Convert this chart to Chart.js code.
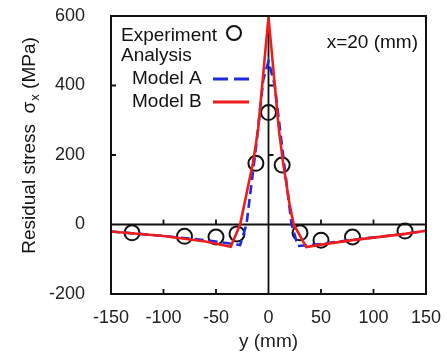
<!DOCTYPE html>
<html>
<head>
<meta charset="utf-8">
<script src="https://cdn.jsdelivr.net/npm/chart.js@4"></script>
<style>
  html, body { margin: 0; padding: 0; background: #fff; }
  #wrap { width: 447px; height: 354px; }
</style>
</head>
<body>
<div id="wrap"><canvas id="myChart"></canvas></div>
<script>
// measured points (y position in mm, stress in MPa)
const expPos    = [-130, -80, -50, -30, -12, 0, 13, 30, 50, 80, 130];
const expStress = [-24, -34, -36, -27, 176, 322, 171, -24, -45, -36, -19];

// Model A (blue dashed)
const modelAPos    = [-150, -100, -60, -27, -21, -12, -5, 0, 6, 11, 22, 28, 50, 80, 130, 150];
const modelAStress = [-20, -33, -45, -59, 0, 220, 416, 470, 400, 272, 0, -62, -56, -44, -27, -18];

// Model B (red solid)
const modelBPos    = [-150, -100, -60, -36, -27, -15, -10, -6, -3, 0, 3, 6, 10, 14, 20, 24, 36, 50, 80, 130, 150];
const modelBStress = [-20, -33, -49, -64, 0, 175, 270, 400, 500, 595, 500, 400, 270, 175, 60, 0, -65, -58, -45, -27, -18];

const xRange = [-150, 150];
const yRange = [-200, 600];

const toXY = (xs, ys) => xs.map((v, i) => ({ x: v, y: ys[i] }));

const FONT = '"Liberation Sans", Arial, sans-serif';
const BLUE = '#1e2be0';
const RED = '#ee1c1c';

const framePlugin = {
  id: 'frame',
  beforeDatasetsDraw(chart) {
    const { ctx, chartArea: a, scales: { x, y } } = chart;
    const x0 = x.getPixelForValue(0), y0 = y.getPixelForValue(0);
    ctx.save();
    ctx.strokeStyle = '#111';
    ctx.lineWidth = 1.8;
    ctx.beginPath();
    ctx.moveTo(a.left, y0); ctx.lineTo(a.right, y0);
    ctx.moveTo(x0, a.top); ctx.lineTo(x0, a.bottom);
    x.ticks.map(t => t.value).filter(v => v !== 0 && v > x.min && v < x.max).forEach(v => {
      const px = x.getPixelForValue(v);
      ctx.moveTo(px, a.bottom); ctx.lineTo(px, a.bottom - 5);
      ctx.moveTo(px, y0); ctx.lineTo(px, y0 - 5);
    });
    y.ticks.map(t => t.value).filter(v => v > 0 && v < y.max).forEach(v => {
      const py = y.getPixelForValue(v);
      ctx.moveTo(a.left, py); ctx.lineTo(a.left + 5, py);
      ctx.moveTo(x0, py); ctx.lineTo(x0 + 5, py);
    });
    ctx.stroke();
    ctx.restore();
  },
  afterDraw(chart) {
    const { ctx, chartArea: a } = chart;
    ctx.save();
    // plot frame
    ctx.strokeStyle = '#111';
    ctx.lineWidth = 2;
    ctx.strokeRect(a.left, a.top, a.right - a.left, a.bottom - a.top);

    // legend
    ctx.fillStyle = '#111';
    ctx.font = '19px ' + FONT;
    ctx.textBaseline = 'alphabetic';
    ctx.textAlign = 'left';
    const lx = a.left + 10;
    ctx.fillText('Experiment', lx, a.top + 25);
    ctx.beginPath();
    ctx.lineWidth = 2;
    ctx.arc(a.left + 123, a.top + 17, 7, 0, Math.PI * 2);
    ctx.stroke();
    ctx.fillText('Analysis', lx, a.top + 45);
    ctx.fillText('Model A', lx + 11, a.top + 68);
    ctx.fillText('Model B', lx + 11, a.top + 91);
    ctx.lineWidth = 2.8;
    ctx.strokeStyle = BLUE;
    ctx.setLineDash([15, 6]);
    ctx.beginPath();
    ctx.moveTo(a.left + 102, a.top + 63); ctx.lineTo(a.left + 138, a.top + 63);
    ctx.stroke();
    ctx.setLineDash([]);
    ctx.strokeStyle = RED;
    ctx.beginPath();
    ctx.moveTo(a.left + 102, a.top + 86); ctx.lineTo(a.left + 138, a.top + 86);
    ctx.stroke();

    // annotation
    ctx.textAlign = 'right';
    ctx.fillText('x=20 (mm)', a.right - 8, a.top + 32);

    // y axis title with subscript
    ctx.translate(35, 146);
    ctx.rotate(-Math.PI / 2);
    const main = 'Residual stress  \u03c3', sub = 'x', tail = ' (MPa)';
    ctx.font = '19px ' + FONT;
    const w1 = ctx.measureText(main).width, w3 = ctx.measureText(tail).width;
    ctx.font = '13px ' + FONT;
    const w2 = ctx.measureText(sub).width;
    let sx = -(w1 + w2 + w3) / 2;
    ctx.textAlign = 'left';
    ctx.font = '19px ' + FONT;
    ctx.fillText(main, sx, 0);
    ctx.font = '13px ' + FONT;
    ctx.fillText(sub, sx + w1 + 1, 4);
    ctx.font = '19px ' + FONT;
    ctx.fillText(tail, sx + w1 + w2 + 1, 0);
    ctx.restore();
  }
};

const ctx = document.getElementById('myChart').getContext('2d');
const chart = new Chart(ctx, {
  type: 'scatter',
  data: {
    datasets: [{
      type: 'line',
      label: 'Model B',
      data: toXY(modelBPos, modelBStress),
      borderColor: RED,
      borderWidth: 2.6,
      pointRadius: 0,
      tension: 0,
      fill: false
    }, {
      type: 'line',
      label: 'Model A',
      data: toXY(modelAPos, modelAStress),
      borderColor: BLUE,
      borderWidth: 2.6,
      borderDash: [9, 5],
      pointRadius: 0,
      tension: 0,
      fill: false
    }, {
      type: 'scatter',
      label: 'Experiment',
      data: toXY(expPos, expStress),
      borderColor: '#111',
      backgroundColor: 'rgba(0,0,0,0)',
      borderWidth: 2,
      pointRadius: 7.5,
      pointStyle: 'circle'
    }]
  },
  options: {
    responsive: true,
    maintainAspectRatio: false,
    animation: false,
    layout: { padding: { top: 16, right: 21, left: 0, bottom: 0 } },
    plugins: { legend: { display: false }, tooltip: { enabled: false } },
    scales: {
      x: {
        type: 'linear',
        min: xRange[0],
        max: xRange[1],
        afterFit: s => { s.height = 60; s.paddingLeft = 0; s.paddingRight = 0; },
        grid: { display: false, drawTicks: false },
        border: { display: false },
        ticks: { stepSize: 50, padding: 13, color: '#222', font: { family: FONT, size: 18 } },
        title: { display: true, text: 'y (mm)', color: '#222', padding: { top: 0, bottom: 1 }, font: { family: FONT, size: 19 } }
      },
      y: {
        type: 'linear',
        min: yRange[0],
        max: yRange[1],
        afterFit: s => { s.width = 111; s.paddingTop = 0; s.paddingBottom = 0; },
        grid: { display: false, drawTicks: false },
        border: { display: false },
        ticks: { stepSize: 200, padding: 26, color: '#222', font: { family: FONT, size: 18 } }
      }
    }
  },
  plugins: [framePlugin]
});
</script>
</body>
</html>
